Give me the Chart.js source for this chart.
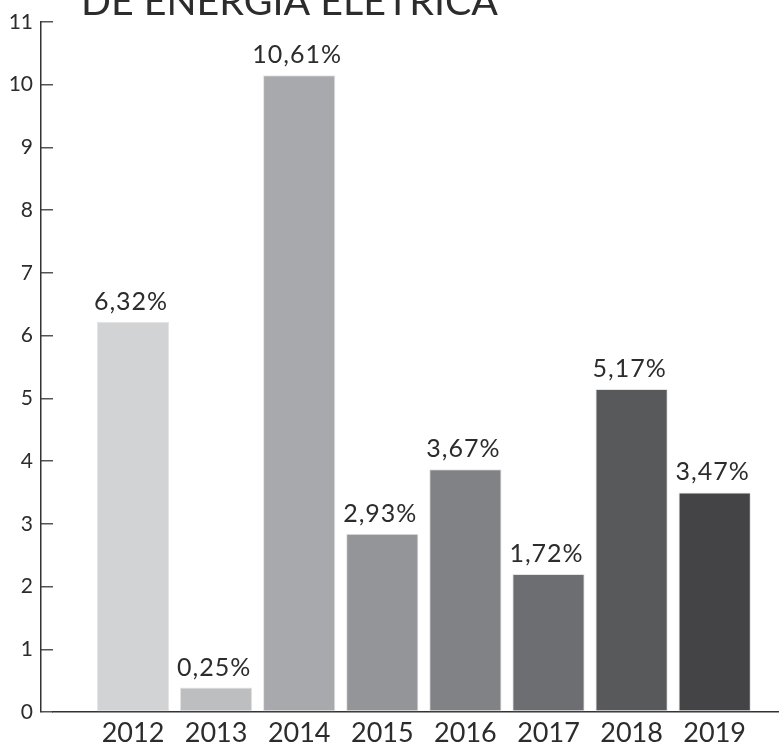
<!DOCTYPE html>
<html>
<head>
<meta charset="utf-8">
<script src="https://cdn.jsdelivr.net/npm/chart.js@4.4.0/dist/chart.umd.min.js"></script>
<style>
html,body{margin:0;padding:0;background:#ffffff;overflow:hidden}
#wrap{position:relative;width:779px;height:744px}
canvas{display:block}
</style>
</head>
<body>
<div id="wrap"><canvas id="c" width="779" height="744"></canvas></div>
<script>
// ---- data ----
const titleText = 'DE ENERGIA ELÉTRICA';
const years = ['2012', '2013', '2014', '2015', '2016', '2017', '2018', '2019'];
const barValues = [6.22, 0.39, 10.15, 2.84, 3.87, 2.20, 5.15, 3.50];
const valueLabels = ['6,32%', '0,25%', '10,61%', '2,93%', '3,67%', '1,72%', '5,17%', '3,47%'];
const yTickValues = [0, 1, 2, 3, 4, 5, 6, 7, 8, 9, 10, 11];
const barColors = ['#d1d3d4', '#bcbec0', '#a7a9ac', '#939598', '#808285', '#6d6e71', '#58595b', '#444446'];

const FONT = 'Lato, "Open Sans", sans-serif';
const TEXT = '#2c2c2c';

const overlay = {
  id: 'overlay',
  afterDatasetsDraw(chart) {
    const ctx = chart.ctx;
    const meta = chart.getDatasetMeta(0);
    ctx.save();
    ctx.fillStyle = TEXT;
    ctx.font = '25px ' + FONT;
    if ('letterSpacing' in ctx) ctx.letterSpacing = '1px';
    ctx.textAlign = 'center';
    ctx.textBaseline = 'alphabetic';
    meta.data.forEach((bar, i) => {
      ctx.fillText(valueLabels[i], bar.x - 2, bar.y - 12);
    });
    // title (cropped at the top of the picture)
    if ('letterSpacing' in ctx) ctx.letterSpacing = '0px';
    ctx.font = '40px ' + FONT;
    const w = ctx.measureText(titleText).width;
    const size = 40 * 417 / w;
    ctx.font = size.toFixed(1) + 'px ' + FONT;
    ctx.textAlign = 'left';
    ctx.fillText(titleText, 81, 15);
    ctx.restore();
  }
};

function zeroPad(s) { s.paddingTop = 0; s.paddingBottom = 0; s.paddingLeft = 0; s.paddingRight = 0; }

new Chart(document.getElementById('c'), {
  type: 'bar',
  data: {
    datasets: [{
      data: barValues.map((v, i) => ({ x: i, y: v })),
      backgroundColor: barColors,
      borderColor: '#e4e4e5',
      borderWidth: 1,
      borderSkipped: false,
      categoryPercentage: 1,
      barPercentage: 0.87
    }]
  },
  options: {
    responsive: false,
    animation: false,
    devicePixelRatio: 1,
    layout: { padding: { top: 22, left: 0, right: 0, bottom: 0 } },
    plugins: { legend: { display: false }, tooltip: { enabled: false }, title: { display: false } },
    scales: {
      x: {
        type: 'linear',
        min: -0.963,
        max: 7.774,
        offset: false,
        afterBuildTicks: s => { s.ticks = years.map((_, i) => ({ value: i })); },
        afterFit: s => { s.height = 32; zeroPad(s); },
        ticks: {
          callback: v => years[v],
          autoSkip: false, maxRotation: 0, padding: 5,
          color: TEXT, font: { family: FONT, size: 27 }
        },
        grid: { display: true, drawOnChartArea: false, drawTicks: false, tickLength: 0, offset: false, lineWidth: 1.5, color: '#333' },
        border: { display: true, color: '#333', width: 1.5 }
      },
      y: {
        position: 'left',
        weight: 0,
        min: 0, max: 11,
        afterBuildTicks: s => { s.ticks = yTickValues.map(v => ({ value: v })); },
        afterFit: s => { s.width = 12; zeroPad(s); },
        ticks: { display: false },
        grid: { display: true, drawOnChartArea: false, drawTicks: true, tickLength: 12, lineWidth: 1.5, color: '#555' },
        border: { display: false }
      },
      y2: {
        position: 'left',
        weight: 1,
        min: 0, max: 11,
        afterBuildTicks: s => { s.ticks = yTickValues.map(v => ({ value: v })); },
        afterFit: s => { s.width = 41; zeroPad(s); },
        ticks: { padding: 8, color: TEXT, font: { family: FONT, size: 21 } },
        grid: { display: true, drawOnChartArea: false, drawTicks: false, tickLength: 0, lineWidth: 1.5, color: '#333' },
        border: { display: true, color: '#333', width: 1.5 }
      }
    }
  },
  plugins: [overlay]
});
</script>
</body>
</html>
